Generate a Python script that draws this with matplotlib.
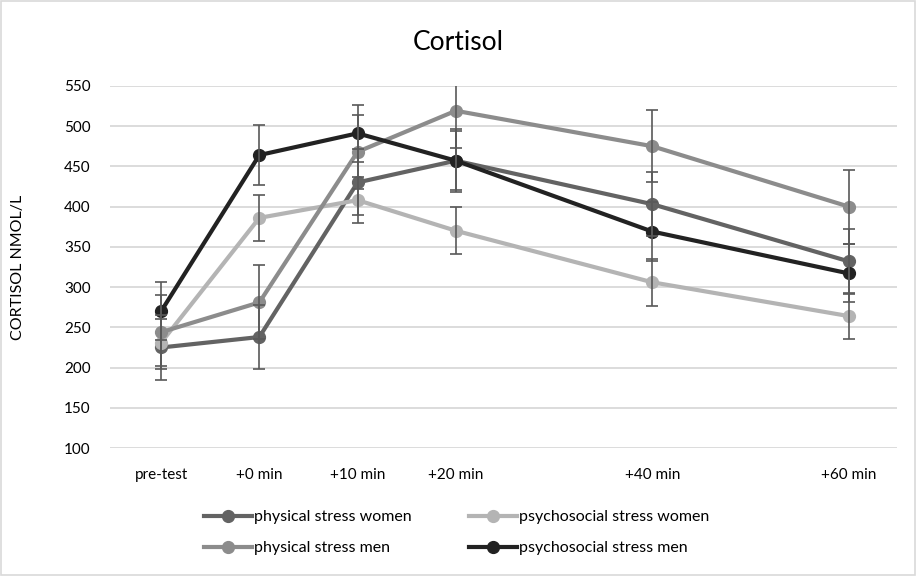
import matplotlib.pyplot as plt
from matplotlib.patches import Rectangle

# time points (minutes, pre-test placed at -10 on the time axis)
times = [-10, 0, 10, 20, 40, 60]
tick_labels = ["pre-test", "+0 min", "+10 min", "+20 min", "+40 min", "+60 min"]

series_names = ["physical stress women", "psychosocial stress women",
                "physical stress men", "psychosocial stress men"]

phys_women = [225, 238, 430, 457, 403, 332]
psych_women = [231, 386, 408, 370, 306, 264]
phys_men = [244, 281, 468, 519, 475, 400]
psych_men = [270, 464, 491, 457, 369, 317]

phys_women_err = [40, 40, 41, 39, 40, 40]
psych_women_err = [29, 29, 29, 29, 29, 29]
phys_men_err = [46, 46, 46, 46, 45, 46]
psych_men_err = [36, 37, 35, 37, 37, 36]

values = [phys_women, psych_women, phys_men, psych_men]
errors = [phys_women_err, psych_women_err, phys_men_err, psych_men_err]
colors = ["#636363", "#b4b4b4", "#8c8c8c", "#222222"]

plt.rcParams['font.family'] = ['Lato', 'DejaVu Sans']

fig = plt.figure(figsize=(9.17, 5.76), dpi=100)
ax = fig.add_axes([0.12, 0.222, 0.858, 0.629])

# grey border around the whole chart
fig.patches.append(Rectangle((0.001, 0.001), 0.997, 0.997, transform=fig.transFigure,
                             fill=False, edgecolor="#d9d9d9", linewidth=1.2))

lines = []
for vals, col, name in zip(values, colors, series_names):
    ln, = ax.plot(times, vals, color=col, linewidth=3, marker='o', markersize=8.5,
                  label=name, zorder=3, clip_on=False)
    lines.append(ln)

for vals, errs in zip(values, errors):
    ax.errorbar(times, vals, yerr=errs, fmt='none', ecolor="#595959", elinewidth=1.2,
                capsize=4, capthick=1.2, zorder=4)

ax.set_xlim(-15.2, 64.9)
ax.set_ylim(100, 550)
ax.set_yticks(range(100, 551, 50))
ax.set_xticks(times)
ax.set_xticklabels(tick_labels)
ax.grid(axis='y', color="#d9d9d9", linewidth=1.3, zorder=0)
ax.set_axisbelow(True)
for s in ax.spines.values():
    s.set_visible(False)
ax.tick_params(length=0, labelsize=11, labelcolor="#000000")
ax.tick_params(axis='x', pad=14)
ax.tick_params(axis='y', pad=14)

ax.set_ylabel("CORTISOL NMOL/L", fontsize=11.5, labelpad=28)
fig.text(0.5, 0.927, "Cortisol", ha='center', va='center', fontsize=19)

# legend rows: women first, men second (matplotlib fills column-wise)
order = [0, 2, 1, 3]
fig.legend(handles=[lines[i] for i in order], loc='center', bbox_to_anchor=(0.498, 0.075),
           ncol=2, frameon=False, fontsize=11.5, handlelength=3.0, handletextpad=0.1,
           columnspacing=3.6, labelspacing=1.05)

fig.savefig("out.png", dpi=100)
